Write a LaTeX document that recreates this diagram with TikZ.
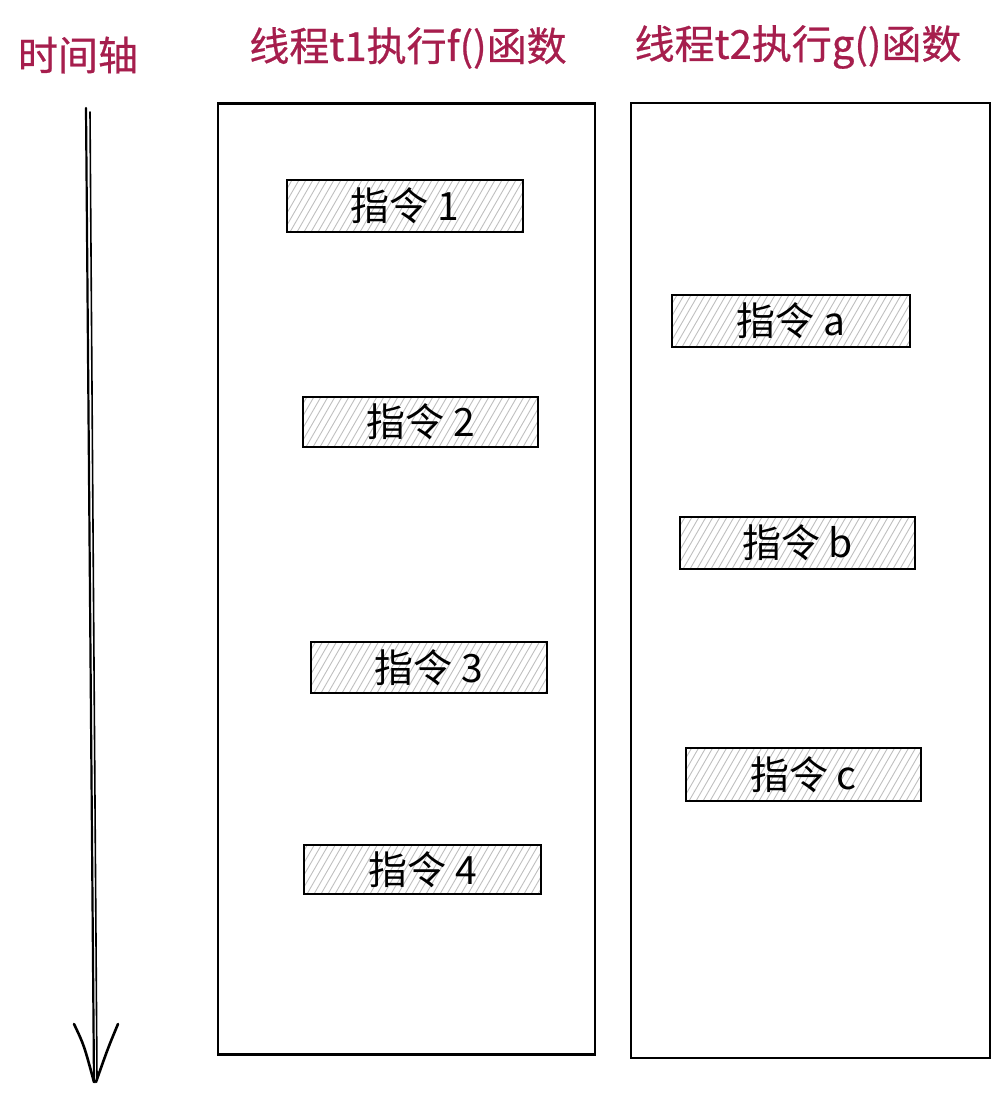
\documentclass[tikz,border=0pt]{standalone}
\usepackage{fontspec}
\setmainfont{Noto Sans CJK SC}
\newfontfamily\titlefont[FakeBold=0.6]{Noto Sans CJK SC}
\definecolor{titlered}{HTML}{A61E4D}
\begin{document}
\begin{tikzpicture}[x=1pt,y=-1pt,
  title/.style={text=titlered,font=\titlefont\fontsize{40}{44}\selectfont,inner sep=0pt,anchor=center},
  thread/.style={draw=black,line width=2.8pt,rectangle,inner sep=0pt},
  hatch/.style={draw=gray!50,line width=0.9pt},
  instr/.style={draw=black,line width=2.8pt,rectangle,inner sep=0pt,
    font=\fontsize{39}{42}\selectfont,text=black,
    path picture={\foreach \k in {-60,-53,...,260}
      {\draw[hatch] (path picture bounding box.south west) ++(\k pt,0pt) -- ++(60:120pt);}}},
  axis/.style={line width=2.2pt,line cap=round}]
\useasboundingbox (0,0) rectangle (1005,1107);
% titles
\node[title] (ttime) at (78,55) {时间轴};
\node[title] (tt1) at (408,48) {线程t1执行f()函数};
\node[title] (tt2) at (798,47) {线程t2执行g()函数};
% thread boxes
\node[thread,minimum width=377pt,minimum height=951pt] (box1) at (406.5,579) {};
\node[thread,minimum width=359pt,minimum height=955pt] (box2) at (810.5,580.5) {};
% instructions
\node[instr,minimum width=236pt,minimum height=52pt] (i1) at (405,206) {指令 1};
\node[instr,minimum width=235pt,minimum height=50pt] (i2) at (420.5,422) {指令 2};
\node[instr,minimum width=236pt,minimum height=51pt] (i3) at (429,667.5) {指令 3};
\node[instr,minimum width=237pt,minimum height=49pt] (i4) at (422.5,869.5) {指令 4};
\node[instr,minimum width=238pt,minimum height=52pt] (ia) at (791,321) {指令 a};
\node[instr,minimum width=235pt,minimum height=52pt] (ib) at (797.5,543) {指令 b};
\node[instr,minimum width=235pt,minimum height=53pt] (ic) at (803.5,774.5) {指令 c};
% time axis
\coordinate (axtop) at (86,108);
\coordinate (axtopb) at (90,112);
\coordinate (axend) at (94,1082);
\coordinate (axendb) at (97,1078);
\coordinate (hl) at (74,1024);
\coordinate (hr) at (118,1024);
\draw[axis] (axtop) -- (axend);
\draw[axis,line width=1.6pt] (axtopb) -- (axendb);
\draw[axis,line width=2.6pt] (hl) .. controls (84,1045) .. (94,1082);
\draw[axis,line width=2.6pt] (hr) .. controls (108,1048) .. (96,1082);
\end{tikzpicture}
\end{document}
